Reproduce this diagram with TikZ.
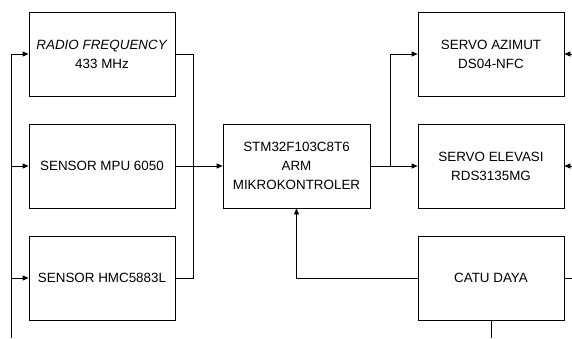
\documentclass[tikz,border=0pt]{standalone}
\usepackage{fontspec}
\setmainfont{Liberation Sans}
\usetikzlibrary{arrows.meta,positioning}

\begin{document}
\begin{tikzpicture}[
  x=1pt, y=-1pt,
  every node/.style={align=center},
  blok/.style={draw=black, line width=0.8pt, minimum width=146pt,
               minimum height=84pt, inner sep=0pt,
               font=\fontsize{13.4}{19}\selectfont},
  e/.style={-{Triangle[length=6pt,width=5pt]}, line width=0.8pt},
  ln/.style={line width=0.8pt},
]
\useasboundingbox (0,0) rectangle (572,338);
% kiri
\node[blok] (rf)  at (102,54)  {\textit{RADIO FREQUENCY}\\433 MHz};
\node[blok] (mpu) at (102,166) {SENSOR MPU 6050};
\node[blok] (hmc) at (102,278) {SENSOR HMC5883L};
% tengah
\node[blok, minimum width=147pt] (stm) at (296.5,166) {STM32F103C8T6\\ARM\\MIKROKONTROLER};
% kanan
\node[blok] (az)   at (491,54)  {SERVO AZIMUT\\DS04-NFC};
\node[blok] (el)   at (491,166) {SERVO ELEVASI\\RDS3135MG};
\node[blok] (catu) at (491,278) {CATU DAYA};
% titik bantu
\coordinate (busb) at (11,338);
\coordinate (bus1) at (11,54);
\coordinate (bus2) at (11,166);
\coordinate (bus3) at (11,278);
\coordinate (jl) at (193,54);
\coordinate (jr) at (390,166);
\coordinate (ra) at (572,54);
\coordinate (re) at (572,166);
\coordinate (rc) at (572,278);
\coordinate (cb) at (491,338);
% sambungan
\draw[ln] (busb) -- (bus1);
\draw[e] (bus1) -- (rf);
\draw[e] (bus2) -- (mpu);
\draw[e] (bus3) -- (hmc);
\draw[ln] (rf.east) -- (jl) |- (hmc.east);
\draw[e] (mpu) -- (stm);
\draw[e] (stm) -- (el);
\draw[e] (jr) |- (az.west);
\draw[e] (catu.west) -| (stm.south);
\draw[e] (ra) -- (az);
\draw[e] (re) -- (el);
\draw[ln] (catu) -- (rc);
\draw[ln] (catu) -- (cb);
\end{tikzpicture}
\end{document}
